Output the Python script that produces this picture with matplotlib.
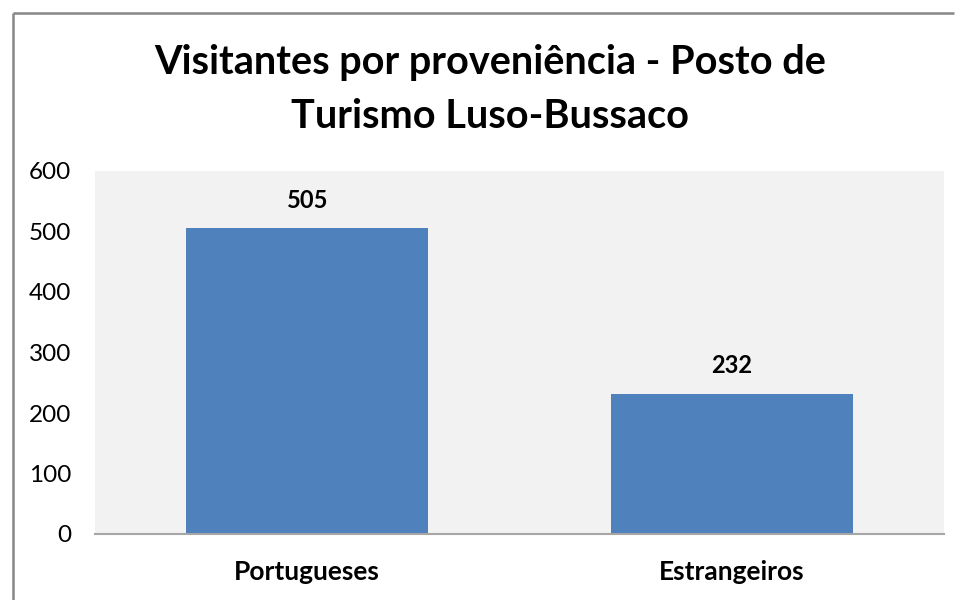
import matplotlib
matplotlib.use("Agg")
import matplotlib.pyplot as plt
from matplotlib.lines import Line2D

categories = ["Portugueses", "Estrangeiros"]
visitors = [505, 232]
y_ticks = [0, 100, 200, 300, 400, 500, 600]
title = "Visitantes por proveniência - Posto de\nTurismo Luso-Bussaco"

plt.rcParams["font.family"] = ["Lato", "DejaVu Sans"]

W, H = 957, 600
fig = plt.figure(figsize=(W / 100, H / 100), dpi=100)

# outer chart frame: only the left and top edges fall inside the image
frame_x = 12.5 / W
frame_y = 1 - 13 / H
fig.add_artist(Line2D([frame_x, frame_x], [0, frame_y], transform=fig.transFigure,
                      color="#878787", linewidth=1.8, solid_capstyle="butt"))
fig.add_artist(Line2D([frame_x, 954 / W], [frame_y, frame_y], transform=fig.transFigure,
                      color="#878787", linewidth=1.8, solid_capstyle="butt"))

ax = fig.add_axes([95 / W, 66 / H, 849 / W, 363 / H])
ax.set_facecolor("#F2F2F2")

x = range(len(categories))
ax.bar(x, visitors, width=0.57, color="#4F81BD", zorder=2)
ax.set_xlim(-0.5, len(categories) - 0.5)
ax.set_ylim(0, 600)
ax.set_yticks(y_ticks)
ax.set_yticklabels([str(v) for v in y_ticks], fontsize=17.5, color="#000000")
ax.set_xticks(list(x))
ax.set_xticklabels(categories, fontsize=19, fontweight="bold")
ax.tick_params(axis="y", length=0, pad=17)
ax.tick_params(axis="x", length=0, pad=19)

for s in ("top", "right", "left"):
    ax.spines[s].set_visible(False)
ax.spines["bottom"].set_color("#A6A6A6")
ax.spines["bottom"].set_linewidth(1.5)

for xi, v in zip(x, visitors):
    ax.annotate(str(v), (xi, v), xytext=(0, 12), textcoords="offset points",
                ha="center", va="bottom", fontsize=17, fontweight="bold")

fig.text(0.5 + 12 / W, 1 - 89.5 / H, title, ha="center", va="center",
         fontsize=28.5, fontweight="bold", linespacing=1.58)

fig.savefig("out.png", dpi=100, facecolor="white")
